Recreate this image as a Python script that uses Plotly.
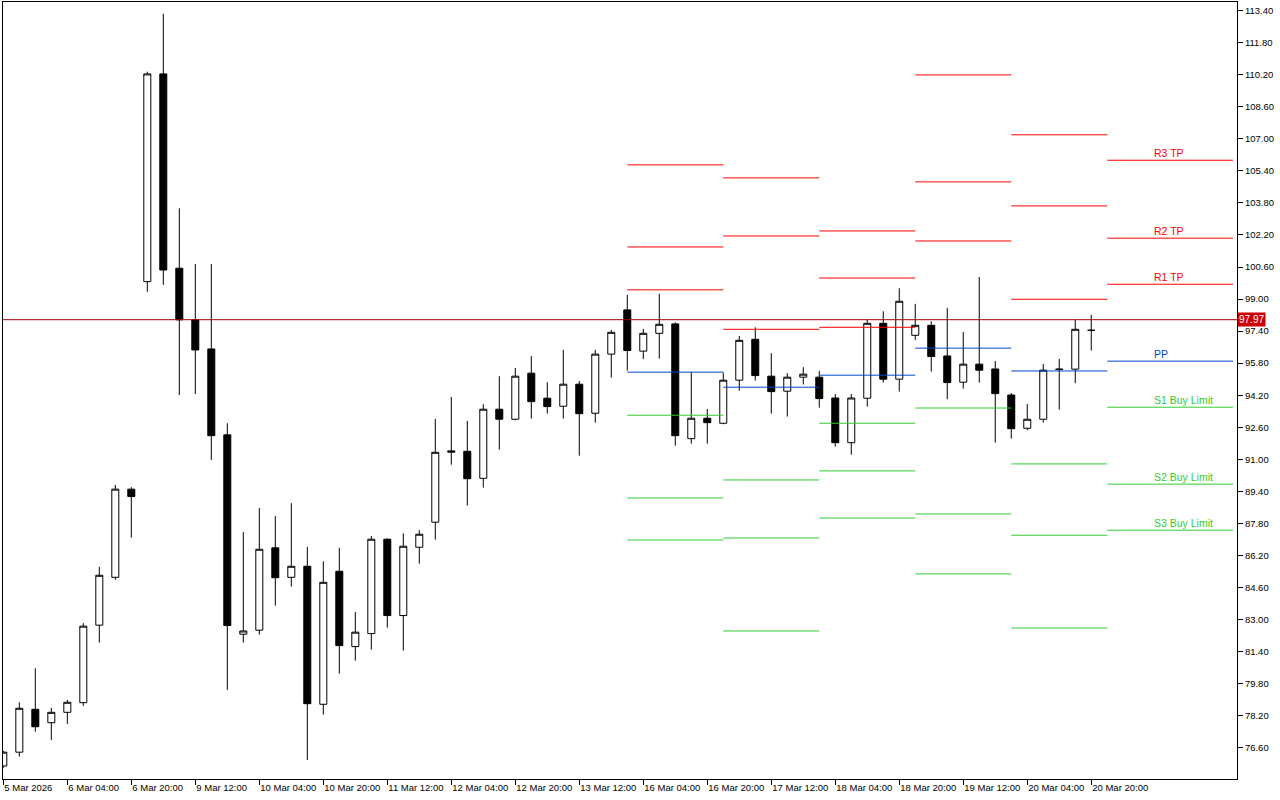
import plotly.graph_objects as go
from datetime import datetime, timedelta

# ---------------- data (4-hour bars) ----------------
opens = [75.69, 76.38, 78.52, 77.85, 78.37, 78.85, 82.72, 85.11, 89.51, 99.87,
         110.24, 100.54, 97.96, 96.51, 92.22, 82.27, 82.47, 86.58, 85.11, 85.66,
         78.77, 85.41, 81.65, 82.30, 87.01, 83.20, 86.61, 87.86, 91.42, 91.40,
         90.05, 93.50, 93.00, 95.30, 94.05, 93.65, 94.75, 93.30, 96.25, 98.46,
         96.40, 97.29, 97.76, 92.03, 93.05, 92.80, 94.95, 96.99, 95.15, 94.40,
         95.10, 95.10, 94.06, 91.83, 94.05, 97.79, 95.00, 97.19, 97.69, 96.16,
         94.85, 95.75, 95.51, 94.21, 92.55, 93.00, 95.48, 95.50, 97.44]
highs = [76.45, 78.87, 80.57, 78.59, 78.99, 82.82, 85.63, 89.72, 89.61, 110.35,
         113.24, 103.53, 100.75, 100.75, 92.80, 87.37, 88.57, 88.17, 88.81, 86.63,
         85.91, 86.58, 83.38, 87.17, 87.05, 87.31, 87.47, 93.02, 94.11, 92.92,
         93.75, 95.15, 95.56, 96.16, 94.85, 96.46, 94.91, 96.46, 97.46, 99.21,
         97.51, 99.26, 97.84, 95.35, 93.51, 95.33, 97.16, 97.59, 96.30, 95.30,
         95.60, 95.41, 94.26, 94.26, 97.96, 98.39, 99.54, 98.76, 97.89, 98.56,
         97.36, 100.10, 95.91, 94.31, 93.76, 95.76, 96.01, 97.96, 98.21]
lows = [75.60, 76.16, 77.40, 76.99, 77.79, 78.69, 81.85, 84.98, 87.09, 99.36,
        99.71, 94.21, 94.26, 90.97, 79.49, 81.85, 82.25, 83.69, 84.64, 75.99,
        78.25, 80.30, 80.95, 81.50, 82.60, 81.45, 85.79, 86.99, 90.73, 88.69,
        89.59, 91.48, 92.95, 93.03, 93.28, 93.03, 91.18, 92.83, 95.08, 95.43,
        96.00, 96.03, 91.68, 91.78, 91.78, 92.75, 94.43, 94.93, 93.28, 93.13,
        94.73, 93.58, 91.63, 91.23, 93.63, 94.83, 94.38, 96.96, 95.38, 94.00,
        94.53, 94.83, 91.83, 92.03, 92.45, 92.83, 93.48, 94.80, 96.43]
closes = [76.38, 78.57, 77.65, 78.37, 78.87, 82.67, 85.21, 89.51, 89.14, 110.24,
          100.45, 97.96, 96.46, 92.18, 82.70, 82.43, 86.51, 85.09, 85.66, 78.80,
          84.86, 81.70, 82.37, 87.01, 83.20, 86.66, 87.26, 91.35, 91.36, 90.03,
          93.50, 93.00, 95.15, 93.88, 93.63, 94.75, 93.28, 96.25, 97.34, 96.43,
          97.29, 97.74, 92.18, 93.05, 92.83, 94.95, 96.94, 95.18, 94.38, 95.10,
          95.25, 94.03, 91.83, 94.06, 97.79, 95.00, 98.89, 97.69, 96.13, 94.83,
          95.75, 95.45, 94.28, 92.53, 93.00, 95.45, 95.50, 97.49, 97.44]

current_price = 97.97

# daily pivot levels
pivot_days = ["2026-03-16", "2026-03-17", "2026-03-18", "2026-03-19", "2026-03-20", "2026-03-23"]
r3 = [105.70, 105.05, 102.40, 110.19, 107.20, 105.93]
r2 = [101.60, 102.15, 100.05, 104.85, 103.65, 102.04]
r1 = [99.46, 97.49, 97.59, 101.90, 98.99, 99.74]
pp = [95.35, 94.60, 95.20, 96.55, 95.41, 95.90]
s1 = [93.20, 89.97, 92.80, 93.56, 90.77, 93.60]
s2 = [89.07, 87.07, 90.42, 88.27, 87.21, 89.76]
s3 = [86.97, 82.43, 88.07, 85.28, 82.58, 87.46]
level_names = ["R3 TP", "R2 TP", "R1 TP", "PP", "S1 Buy Limit", "S2 Buy Limit", "S3 Buy Limit"]

# ---------------- bar times (4h, trading days only) ----------------
times = []
t = datetime(2026, 3, 5, 12, 0)
while len(times) < len(opens):
    if t.weekday() < 5:
        times.append(t)
    t += timedelta(hours=4)

xi = list(range(len(times)))
tickvals = xi[::4]
ticktext = []
for k in tickvals:
    d = times[k]
    if k == 0:
        ticktext.append(f"{d.day} {d:%b %Y}")
    else:
        ticktext.append(f"{d.day} {d:%b %H:%M}")

X_LEFT, X_RIGHT = -0.02, 77.11
LINE_END = 76.86

RED = "#FF0000"
BLUE = "#0046D5"
GREEN = "#32CD32"
level_sets = [(r3, RED), (r2, RED), (r1, RED), (pp, BLUE), (s1, GREEN), (s2, GREEN), (s3, GREEN)]

def day_start(ds):
    d = datetime.strptime(ds, "%Y-%m-%d").date()
    for k, tt in enumerate(times):
        if tt.date() == d:
            return k
    return len(times)

starts = [day_start(d) for d in pivot_days]
ends = starts[1:] + [LINE_END]

fig = go.Figure()
fig.add_trace(go.Candlestick(
    x=xi, open=opens, high=highs, low=lows, close=closes,
    increasing=dict(line=dict(color="black", width=1), fillcolor="white"),
    decreasing=dict(line=dict(color="black", width=1), fillcolor="black"),
    whiskerwidth=0, hoverinfo="skip", showlegend=False,
))

for vals, col in level_sets:
    xs, ys = [], []
    for s, e, v in zip(starts, ends, vals):
        xs += [s, e, None]
        ys += [v, v, None]
    fig.add_trace(go.Scatter(x=xs, y=ys, mode="lines", line=dict(color=col, width=1),
                             hoverinfo="skip", showlegend=False))

# labels for current levels
for name, (vals, col) in zip(level_names, level_sets):
    fig.add_annotation(x=starts[-1] + 2.8, y=vals[-1], text=name, showarrow=False,
                       xanchor="left", yanchor="middle", yshift=7,
                       font=dict(family="Liberation Sans, Arial", size=10.5, color=col))

# current price line + tag
fig.add_shape(type="line", xref="paper", x0=0, x1=1, yref="y", y0=current_price, y1=current_price,
              line=dict(color="#A00000", width=1), layer="above")
fig.add_annotation(xref="paper", x=1.0, xanchor="left", y=current_price, yanchor="middle",
                   text=f"{current_price:.2f}", showarrow=False, bgcolor="#CC0000",
                   font=dict(family="Liberation Sans, Arial", size=10, color="white"),
                   borderpad=1, xshift=0)

axis_font = dict(family="Liberation Sans, Arial", size=9.5, color="black")
fig.update_layout(
    width=1280, height=800,
    margin=dict(l=3, r=43, t=2, b=21, autoexpand=False),
    paper_bgcolor="white", plot_bgcolor="white",
    showlegend=False, boxgap=0.375,
    xaxis=dict(range=[X_LEFT, X_RIGHT], tickvals=tickvals, ticktext=ticktext,
               ticks="outside", ticklen=5, tickcolor="black", tickwidth=1,
               ticklabelposition="outside right", tickangle=0, automargin=False,
               showline=True, mirror=True, linecolor="black", linewidth=1,
               showgrid=False, zeroline=False, rangeslider=dict(visible=False),
               tickfont=axis_font),
    yaxis=dict(side="right", range=[75.04, 113.83], tick0=76.6, dtick=1.6, tickformat=".2f",
               ticks="outside", ticklen=5, tickcolor="black", tickwidth=1, automargin=False,
               showline=True, mirror=True, linecolor="black", linewidth=1,
               showgrid=False, zeroline=False, tickfont=axis_font),
)

fig.write_html("out.html", config={"displayModeBar": False},
               post_script="document.body.style.margin='0';document.body.style.overflow='hidden';")
